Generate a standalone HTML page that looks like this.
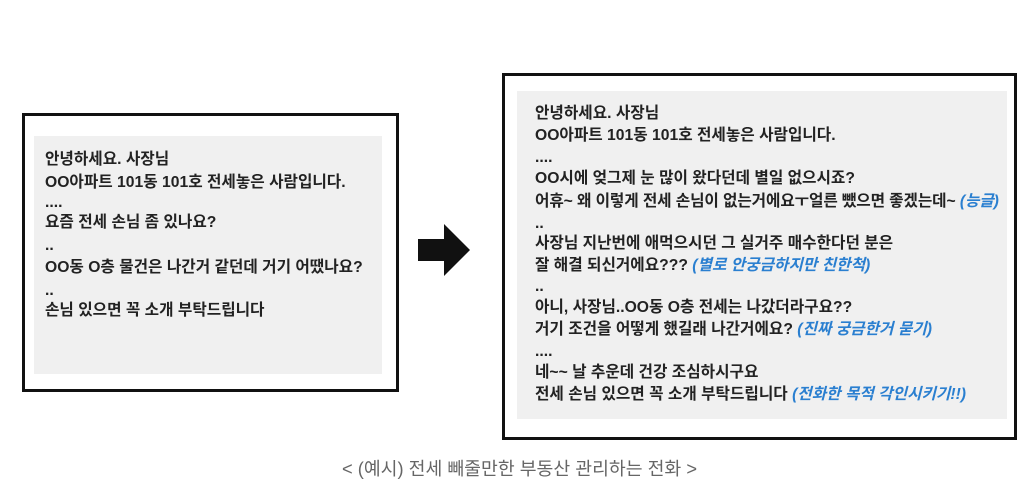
<!DOCTYPE html>
<html><head><meta charset="utf-8"><style>
body{margin:0;width:1032px;height:503px;background:#fff;position:relative;overflow:hidden;font-family:"Liberation Sans","Noto Sans CJK KR",sans-serif;}
.box{position:absolute;border:3px solid #111;box-sizing:border-box;background:#fff}
.gray{position:absolute;background:#f0f0f0}
.t{position:absolute;font-size:15.7px;font-weight:bold;color:#222;white-space:nowrap;line-height:18px}
.b{color:#2a7fd0;font-style:italic;font-weight:bold}
</style></head><body>
<div class="box" style="left:22px;top:113px;width:377px;height:279px"></div>
<div class="gray" style="left:34px;top:136px;width:348px;height:238px"></div>
<div class="t" style="left:45px;top:151px">안녕하세요. 사장님</div>
<div class="t" style="left:45px;top:174px">OO아파트 101동 101호 전세놓은 사람입니다.</div>
<div class="t" style="left:45px;top:194px">....</div>
<div class="t" style="left:45px;top:214px">요즘 전세 손님 좀 있나요?</div>
<div class="t" style="left:45px;top:237px">..</div>
<div class="t" style="left:45px;top:259px">OO동 O층 물건은 나간거 같던데 거기 어땠나요?</div>
<div class="t" style="left:45px;top:282px">..</div>
<div class="t" style="left:45px;top:302px">손님 있으면 꼭 소개 부탁드립니다</div>

<svg style="position:absolute;left:416px;top:222px" width="56" height="56"><polygon points="2,17 28,17 28,2 54,28 28,54 28,39 2,39" fill="#111"/></svg>

<div class="box" style="left:502px;top:73px;width:515px;height:367px"></div>
<div class="gray" style="left:517px;top:91px;width:490px;height:328px"></div>
<div class="t" style="left:535px;top:105px">안녕하세요. 사장님</div>
<div class="t" style="left:535px;top:127px">OO아파트 101동 101호 전세놓은 사람입니다.</div>
<div class="t" style="left:535px;top:149px">....</div>
<div class="t" style="left:535px;top:170px">OO시에 엊그제 눈 많이 왔다던데 별일 없으시죠?</div>
<div class="t" style="left:535px;top:193px;letter-spacing:-0.1px">어휴~ 왜 이렇게 전세 손님이 없는거에요ㅜ얼른 뺐으면 좋겠는데~ <span class="b">(능글)</span></div>
<div class="t" style="left:535px;top:215px">..</div>
<div class="t" style="left:535px;top:235px">사장님 지난번에 애먹으시던 그 실거주 매수한다던 분은</div>
<div class="t" style="left:535px;top:257px">잘 해결 되신거에요??? <span class="b">(별로 안궁금하지만 친한척)</span></div>
<div class="t" style="left:535px;top:278px">..</div>
<div class="t" style="left:535px;top:299px">아니, 사장님..OO동 O층 전세는 나갔더라구요??</div>
<div class="t" style="left:535px;top:321px">거기 조건을 어떻게 했길래 나간거에요? <span class="b">(진짜 궁금한거 묻기)</span></div>
<div class="t" style="left:535px;top:343px">....</div>
<div class="t" style="left:535px;top:364px">네~~ 날 추운데 건강 조심하시구요</div>
<div class="t" style="left:535px;top:386px">전세 손님 있으면 꼭 소개 부탁드립니다 <span class="b">(전화한 목적 각인시키기!!)</span></div>

<div style="position:absolute;left:342px;top:455px;font-size:18.3px;color:#666;white-space:nowrap">&lt; (예시) 전세 빼줄만한 부동산 관리하는 전화 &gt;</div>
</body></html>
